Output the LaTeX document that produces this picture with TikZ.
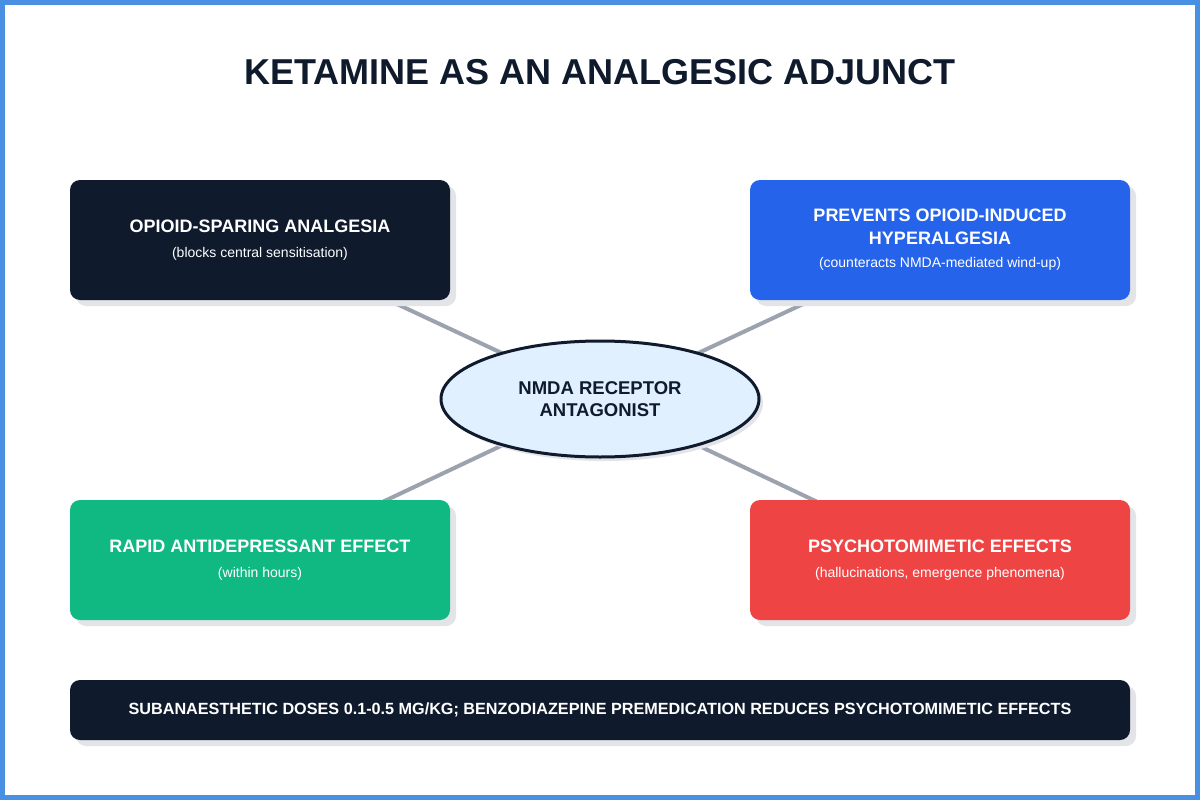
\documentclass[tikz,border=0pt]{standalone}
\usepackage{fontspec}
\setmainfont{Liberation Sans}
\usetikzlibrary{shapes.geometric,shadows}
\definecolor{navy}{HTML}{0F1B2D}
\definecolor{bluebox}{HTML}{2563EB}
\definecolor{greenbox}{HTML}{10B981}
\definecolor{redbox}{HTML}{EF4444}
\definecolor{framec}{HTML}{4A90E2}
\definecolor{linec}{HTML}{9CA3AF}
\definecolor{ellfill}{HTML}{E0F0FE}
\definecolor{shadowc}{HTML}{E2E4E8}
\pgfdeclarelayer{bg}
\pgfsetlayers{bg,main}
\tikzset{
  card/.style={rectangle, rounded corners=10pt, minimum width=380pt, minimum height=120pt,
    align=center, text=white, inner sep=0pt, font=\fontsize{18}{23}\selectfont,
    drop shadow={shadow xshift=6pt, shadow yshift=-6pt, fill=shadowc, opacity=1}},
  conn/.style={draw=linec, line width=4pt},
}
\newcommand{\subt}[1]{{\fontsize{14}{23}\selectfont #1}}
\begin{document}
\begin{tikzpicture}[x=1pt,y=-1pt]
\useasboundingbox (0,0) rectangle (1200,800);
\begin{pgfonlayer}{bg}
\fill[white] (0,0) rectangle (1200,800);
\end{pgfonlayer}
\draw[framec, line width=5pt] (2.5,2.5) rectangle (1197.5,797.5);

\node[text=navy, font=\fontsize{36}{40}\selectfont\bfseries] (title) at (600,72) {KETAMINE AS AN ANALGESIC ADJUNCT};

\node[ellipse, draw=navy, line width=3pt, fill=ellfill, minimum width=318pt, minimum height=116pt,
  align=center, text=navy, font=\fontsize{18.5}{21.5}\selectfont\bfseries,
  drop shadow={shadow xshift=4pt, shadow yshift=-4pt, fill=shadowc, opacity=1}] (c) at (600,399) {NMDA RECEPTOR\\ANTAGONIST};

\node[card, fill=navy] (tl) at (260,240) {\textbf{OPIOID-SPARING ANALGESIA}\\[2pt]\subt{(blocks central sensitisation)}};
\node[card, fill=bluebox] (tr) at (940,240) {\textbf{PREVENTS OPIOID-INDUCED}\\\textbf{HYPERALGESIA}\\\subt{(counteracts NMDA-mediated wind-up)}};
\node[card, fill=greenbox] (bl) at (260,560) {\textbf{RAPID ANTIDEPRESSANT EFFECT}\\[2pt]\subt{(within hours)}};
\node[card, fill=redbox] (br) at (940,560) {\textbf{PSYCHOTOMIMETIC EFFECTS}\\[2pt]\subt{(hallucinations, emergence phenomena)}};

\node[card, fill=navy, minimum width=1060pt, minimum height=60pt,
  font=\fontsize{16.2}{20}\selectfont\bfseries] (bar) at (600,710) {SUBANAESTHETIC DOSES 0.1-0.5 MG/KG; BENZODIAZEPINE PREMEDICATION REDUCES PSYCHOTOMIMETIC EFFECTS};

\begin{pgfonlayer}{bg}
\draw[conn] (c.center) -- (tl.center);
\draw[conn] (c.center) -- (tr.center);
\draw[conn] (c.center) -- (bl.center);
\draw[conn] (c.center) -- (br.center);
\end{pgfonlayer}
\end{tikzpicture}
\end{document}
